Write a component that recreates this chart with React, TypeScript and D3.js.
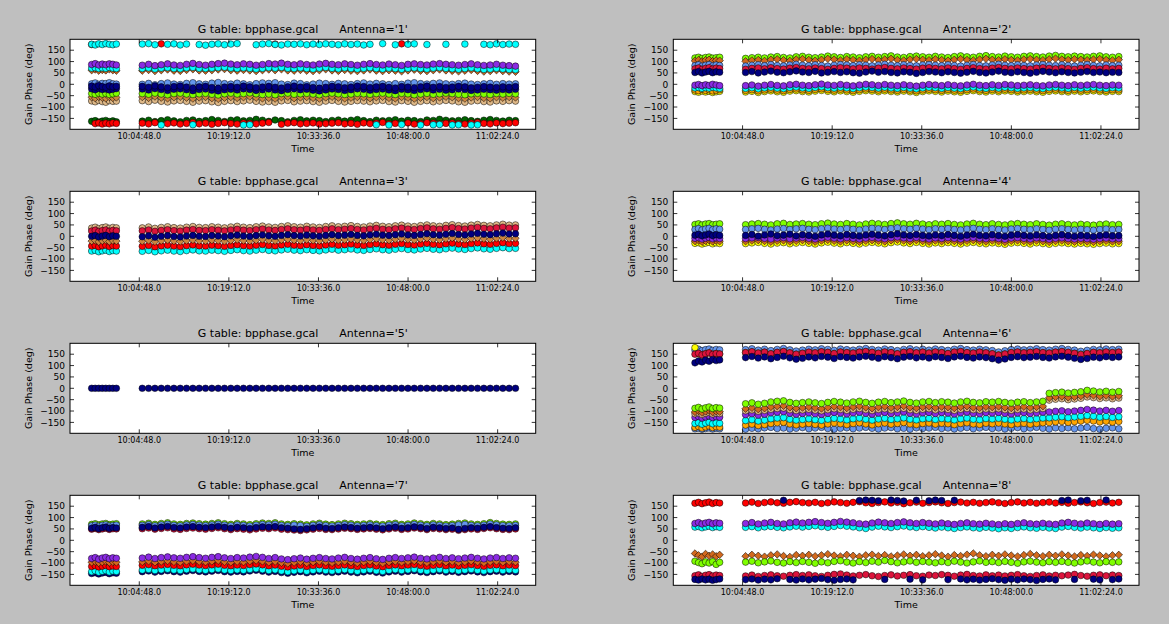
import React from 'react';
import * as d3 from 'd3';

// seconds since midnight
const hms = (h: number, m: number, s: number) => h * 3600 + m * 60 + s;

// two scans: a short one before the gap, then the long one
const scan1Start = hms(9, 57, 9);
const scan1Step = 34;
const scan1Count = 8;
const scan2Start = hms(10, 5, 17);
const scan2Step = 61;
const scan2Count = 60;

const sampleTimes = [
  ...d3.range(scan1Count).map(i => scan1Start + i * scan1Step),
  ...d3.range(scan2Count).map(i => scan2Start + i * scan2Step),
];

const timeTicks = [hms(10, 4, 48), hms(10, 19, 12), hms(10, 33, 36), hms(10, 48, 0), hms(11, 2, 24)];
const phaseTicks = [-150, -100, -50, 0, 50, 100, 150];
const antennaNames = ['1', '2', '3', '4', '5', '6', '7', '8'];
const tableName = 'bpphase.gcal';

// ---- gain phases (deg), first 8 values = scan 1, next 60 = scan 2 ----

// Antenna 1
const ant1Cyan = [176, 173, 178, 175, 179, 176, 174, 177,
  177, 179, 174, -179, 176, 178, 173, 177, -178, 175,
  172, 176, 178, 174, 177, 179, -179, -178, 174, 177,
  179, 175, 173, 177, 176, 178, 174, 177, 175, 178,
  176, 174, 178, 175, 177, 173, 176, -178, 179, -179,
  174, -177, 176, 178, -179, 175, -178, -177, 176, -179,
  -178, 177, -179, -178, 176, 174, 178, 175, 177, 176];
const ant1Red = [175, -173, -170, -175, -171, -174, -170, -172,
  -171, -174, -169, 178, -173, -170, -175, -172, -168, -174,
  -171, -176, -172, -169, -173, -175, -170, -172, -174, -171,
  -168, 177, -176, -171, -169, -174, -172, -170, -175, -173,
  -171, -169, -174, -172, -176, -170, -173, -171, -168, -174,
  -172, 178, -170, -175, -173, -169, -171, -174, -172, -170,
  -173, -175, -171, -168, -172, -174, -170, -173, -171, -169];
const ant1Green = [-163, -160, -166, -162, -159, -164, -161, -165,
  -162, -158, -164, -160, -156, -161, -165, -159, -157, -163,
  -160, -155, -159, -164, -158, -156, -161, -159, -154, -158,
  -163, -157, -160, -165, -159, -156, -161, -158, -160, -164,
  -159, -157, -162, -158, -155, -160, -164, -158, -161, -159,
  -156, -162, -158, -160, -164, -157, -159, -154, -158, -161,
  -159, -156, -160, -163, -158, -155, -159, -162, -158, -160];
const ant1Violet = [87, 91, 85, 89, 86, 90, 88, 85,
  84, 88, 82, 86, 90, 85, 83, 88, 92, 87,
  84, 88, 91, 93, 89, 86, 90, 88, 84, 87,
  91, 89, 93, 88, 86, 90, 87, 85, 89, 92,
  88, 86, 90, 87, 84, 88, 91, 87, 85, 89,
  86, 83, 88, 90, 87, 85, 89, 91, 88, 86,
  84, 87, 90, 86, 83, 85, 88, 84, 82, 80];
const ant1Teal = [71, 73, 69, 72, 70, 74, 71, 69,
  69, 72, 67, 71, 73, 69, 68, 72, 74, 70,
  69, 71, 73, 75, 71, 69, 72, 70, 67, 70,
  73, 71, 74, 70, 69, 72, 69, 67, 71, 74,
  70, 68, 72, 69, 67, 70, 73, 69, 67, 71,
  69, 66, 70, 72, 69, 67, 71, 73, 70, 68,
  66, 69, 72, 68, 65, 67, 70, 67, 65, 64];
const ant1Choc = [62, 65, 60, 63, 61, 66, 62, 60,
  60, 63, 58, 62, 65, 60, 59, 63, 66, 61,
  60, 62, 65, 67, 62, 60, 63, 61, 58, 62,
  65, 62, 66, 61, 60, 63, 60, 58, 62, 66,
  61, 59, 63, 60, 58, 61, 65, 60, 58, 62,
  60, 57, 61, 64, 60, 58, 62, 65, 61, 59,
  57, 60, 63, 59, 56, 58, 62, 58, 56, 55];
const ant1Corn = [2, 6, 0, 4, 3, 7, 2, 1,
  0, 4, -2, 3, 6, 1, -1, 4, 7, 2,
  0, 5, 8, 3, 1, 5, 2, -2, 3, 6,
  4, 7, 1, -1, 5, 3, -2, 1, 5, 3,
  0, 4, 2, -1, 3, 6, 1, 4, 2, -1,
  3, 0, 5, 7, 3, 1, 4, 6, 2, 0,
  3, 5, 1, -1, 2, 4, 0, 3, 1, 2];
const ant1NavyA = [-8, -12, -6, -10, -13, -7, -11, -9,
  -9, -13, -7, -11, -15, -10, -8, -12, -16, -11,
  -9, -14, -17, -12, -10, -13, -8, -11, -15, -12,
  -9, -13, -16, -11, -8, -12, -10, -14, -17, -13,
  -9, -11, -15, -12, -8, -10, -14, -11, -9, -13,
  -16, -10, -12, -15, -11, -8, -13, -10, -14, -12,
  -9, -11, -15, -13, -10, -12, -14, -11, -13, -10];
const ant1NavyB = [-20, -24, -18, -23, -21, -25, -22, -19,
  -21, -25, -19, -23, -27, -22, -20, -24, -28, -23,
  -21, -26, -29, -24, -22, -25, -20, -23, -27, -24,
  -21, -25, -28, -23, -20, -24, -22, -26, -29, -25,
  -21, -23, -27, -24, -20, -22, -26, -23, -21, -25,
  -28, -22, -24, -27, -23, -20, -25, -22, -26, -24,
  -21, -23, -27, -25, -22, -24, -26, -23, -25, -22];
const ant1Lime = [-41, -44, -39, -43, -40, -45, -42, -39,
  -41, -44, -39, -43, -46, -41, -39, -43, -45, -42,
  -40, -44, -47, -42, -39, -43, -41, -38, -42, -45,
  -43, -46, -41, -39, -44, -42, -40, -43, -46, -41,
  -39, -42, -45, -43, -40, -42, -44, -41, -39, -43,
  -45, -40, -42, -46, -43, -40, -44, -42, -39, -41,
  -44, -46, -42, -40, -43, -45, -41, -43, -40, -42];
const ant1Peru = [-57, -61, -55, -59, -62, -56, -60, -58,
  -56, -60, -54, -59, -62, -57, -55, -59, -63, -58,
  -56, -61, -64, -59, -56, -60, -57, -54, -59, -62,
  -60, -63, -57, -55, -61, -58, -56, -60, -63, -58,
  -55, -59, -62, -59, -56, -58, -61, -57, -55, -60,
  -62, -56, -59, -63, -59, -56, -61, -58, -55, -57,
  -61, -63, -58, -56, -60, -62, -57, -59, -56, -58];
const ant1Tan = [-73, -77, -71, -76, -79, -72, -75, -74,
  -72, -76, -70, -75, -78, -73, -71, -75, -79, -74,
  -72, -77, -80, -75, -72, -76, -73, -70, -75, -78,
  -76, -79, -73, -71, -77, -74, -72, -76, -79, -74,
  -71, -75, -78, -75, -72, -74, -77, -73, -71, -76,
  -78, -72, -75, -79, -75, -72, -77, -74, -71, -73,
  -77, -79, -74, -72, -76, -78, -73, -75, -72, -74];

// Antenna 2
const ant2Lime = [116, 119, 114, 118, 120, 115, 117, 119,
  114, 117, 119, 116, 120, 122, 118, 116, 121, 123,
  119, 117, 120, 124, 121, 118, 122, 120, 117, 121,
  123, 119, 122, 125, 120, 118, 122, 124, 121, 119,
  123, 120, 118, 122, 125, 121, 119, 123, 126, 122,
  120, 124, 121, 119, 123, 125, 122, 120, 124, 127,
  123, 121, 124, 122, 120, 123, 125, 121, 119, 122];
const ant2Choc = [103, 107, 101, 106, 108, 102, 105, 104,
  101, 105, 107, 103, 108, 110, 106, 103, 109, 111,
  107, 104, 108, 112, 109, 105, 110, 107, 104, 108,
  111, 106, 109, 112, 107, 105, 109, 111, 108, 106,
  110, 107, 104, 108, 111, 107, 105, 109, 112, 108,
  106, 110, 107, 105, 109, 111, 108, 106, 110, 113,
  109, 107, 110, 108, 106, 109, 111, 107, 105, 108];
const ant2Corn = [82, 86, 80, 84, 87, 81, 85, 83,
  80, 84, 86, 82, 87, 83, 81, 85, 88, 84,
  82, 86, 83, 80, 84, 87, 85, 82, 86, 84,
  81, 85, 88, 84, 82, 86, 83, 81, 85, 87,
  84, 82, 86, 83, 80, 84, 87, 83, 81, 85,
  88, 84, 82, 86, 83, 81, 85, 87, 84, 82,
  86, 83, 80, 84, 87, 83, 81, 85, 82, 84];
const ant2Crimson = [68, 72, 66, 70, 73, 67, 71, 69,
  66, 70, 72, 68, 73, 69, 67, 71, 74, 70,
  68, 72, 69, 66, 70, 73, 71, 68, 72, 70,
  67, 71, 74, 70, 68, 72, 69, 67, 71, 73,
  70, 68, 72, 69, 66, 70, 73, 69, 67, 71,
  74, 70, 68, 72, 69, 67, 71, 73, 70, 68,
  72, 69, 66, 70, 73, 69, 67, 71, 68, 70];
const ant2Navy = [52, 56, 50, 54, 57, 51, 55, 53,
  52, 56, 50, 54, 58, 53, 51, 55, 59, 54,
  52, 57, 50, 53, 56, 52, 55, 51, 49, 54,
  58, 53, 56, 52, 50, 55, 53, 48, 52, 56,
  54, 51, 55, 52, 49, 53, 57, 52, 50, 54,
  58, 53, 51, 55, 52, 49, 53, 57, 54, 51,
  55, 52, 50, 53, 56, 52, 54, 51, 53, 52];
const ant2Violet = [-4, -1, -6, -2, -5, 0, -3, -6,
  -6, -3, -8, -4, -1, -5, -7, -2, 0, -4,
  -6, -2, 1, -3, -5, -1, -4, -7, -3, 0,
  -2, -5, -1, -4, -6, -2, -5, -8, -4, -1,
  -3, -6, -2, -5, -7, -3, 0, -4, -6, -2,
  -5, -1, -3, -6, -4, -2, -5, -7, -3, -1,
  -4, -6, -2, -5, -3, -1, -4, -6, -3, -4];
const ant2Cyan = [-16, -14, -18, -15, -17, -13, -16, -18,
  -18, -15, -20, -16, -13, -17, -19, -14, -12, -16,
  -18, -14, -11, -15, -17, -13, -16, -19, -15, -12,
  -14, -17, -13, -16, -18, -14, -17, -20, -16, -13,
  -15, -18, -14, -17, -19, -15, -12, -16, -18, -14,
  -17, -13, -15, -18, -16, -14, -17, -19, -15, -13,
  -16, -18, -14, -17, -15, -13, -16, -18, -15, -16];
const ant2Orange = [-25, -28, -23, -27, -24, -29, -26, -24,
  -27, -24, -29, -25, -22, -26, -28, -23, -21, -25,
  -27, -23, -20, -24, -26, -22, -25, -28, -24, -21,
  -23, -26, -22, -25, -27, -23, -26, -29, -25, -22,
  -24, -27, -23, -26, -28, -24, -21, -25, -27, -23,
  -26, -22, -24, -27, -25, -23, -26, -28, -24, -22,
  -25, -27, -23, -26, -24, -22, -25, -27, -24, -25];
const ant2Yellow = [-32, -35, -30, -34, -31, -36, -33, -31,
  -34, -31, -36, -32, -29, -33, -35, -30, -28, -32,
  -34, -30, -27, -31, -33, -29, -32, -35, -31, -28,
  -30, -33, -29, -32, -34, -30, -33, -36, -32, -29,
  -31, -34, -30, -33, -35, -31, -28, -32, -34, -30,
  -33, -29, -31, -34, -32, -30, -33, -35, -31, -29,
  -32, -34, -30, -33, -31, -29, -32, -34, -31, -32];

// Antenna 3
const ant3Tan = [36, 40, 34, 38, 41, 35, 39, 37,
  37, 41, 35, 39, 42, 38, 36, 40, 43, 39,
  38, 42, 40, 37, 41, 44, 40, 38, 42, 45,
  41, 39, 43, 46, 42, 40, 44, 41, 39, 43,
  46, 42, 44, 47, 43, 41, 45, 48, 44, 42,
  46, 49, 45, 43, 47, 50, 46, 44, 48, 51,
  47, 45, 49, 52, 48, 46, 50, 53, 49, 50];
const ant3Crimson = [23, 27, 21, 25, 28, 22, 26, 24,
  24, 28, 22, 26, 29, 25, 23, 27, 30, 26,
  25, 29, 27, 24, 28, 31, 27, 25, 29, 32,
  28, 26, 30, 33, 29, 27, 31, 28, 26, 30,
  33, 29, 31, 34, 30, 28, 32, 35, 31, 29,
  33, 36, 32, 30, 34, 37, 33, 31, 35, 38,
  34, 32, 36, 39, 35, 33, 37, 40, 36, 37];
const ant3Navy = [0, 3, -3, 1, 4, -2, 2, 0,
  -2, 2, -4, 0, 3, -1, -3, 1, 4, 0,
  -1, 3, 1, -2, 2, 5, 1, -1, 3, 6,
  2, 0, 4, 7, 3, 1, 5, 2, 0, 4,
  7, 3, 5, 8, 4, 2, 6, 9, 5, 3,
  7, 10, 6, 4, 8, 11, 7, 5, 9, 12,
  8, 6, 10, 13, 9, 7, 11, 14, 10, 11];
const ant3Choc = [-21, -18, -24, -20, -17, -23, -19, -21,
  -22, -18, -24, -20, -17, -21, -23, -19, -16, -20,
  -21, -17, -19, -22, -18, -15, -19, -21, -17, -14,
  -18, -20, -16, -13, -17, -19, -15, -18, -20, -16,
  -13, -17, -15, -12, -16, -18, -14, -11, -15, -17,
  -13, -10, -14, -16, -12, -9, -13, -15, -11, -8,
  -12, -14, -10, -7, -11, -13, -9, -6, -10, -9];
const ant3Red = [-43, -40, -46, -42, -39, -45, -41, -43,
  -44, -40, -46, -42, -39, -43, -45, -41, -38, -42,
  -43, -39, -41, -44, -40, -37, -41, -43, -39, -36,
  -40, -42, -38, -35, -39, -41, -37, -40, -42, -38,
  -35, -39, -37, -34, -38, -40, -36, -33, -37, -39,
  -35, -32, -36, -38, -34, -31, -35, -37, -33, -30,
  -34, -36, -32, -29, -33, -35, -31, -28, -32, -31];
const ant3Cyan = [-65, -62, -68, -64, -61, -67, -63, -65,
  -66, -62, -68, -64, -61, -65, -67, -63, -60, -64,
  -65, -61, -63, -66, -62, -59, -63, -65, -61, -58,
  -62, -64, -60, -57, -61, -63, -59, -62, -64, -60,
  -57, -61, -59, -56, -60, -62, -58, -55, -59, -61,
  -57, -54, -58, -60, -56, -53, -57, -59, -55, -52,
  -56, -58, -54, -51, -55, -57, -53, -50, -54, -53];

// Antenna 4
const ant4Lime = [52, 55, 50, 54, 56, 51, 53, 55,
  51, 54, 56, 53, 50, 55, 57, 52, 54, 56,
  53, 51, 55, 58, 54, 52, 56, 53, 50, 54,
  57, 55, 52, 56, 59, 55, 53, 57, 54, 51,
  55, 53, 56, 52, 50, 54, 57, 53, 51, 55,
  52, 50, 54, 56, 53, 51, 55, 52, 49, 53,
  55, 52, 50, 53, 51, 49, 52, 54, 51, 52];
const ant4Corn = [30, 34, 28, 32, 35, 29, 33, 31,
  30, 33, 35, 31, 28, 32, 34, 30, 33, 35,
  31, 29, 33, 36, 32, 30, 34, 31, 28, 32,
  35, 33, 30, 34, 37, 33, 31, 35, 32, 29,
  33, 31, 34, 30, 28, 32, 35, 31, 29, 33,
  30, 28, 32, 34, 31, 29, 33, 30, 27, 31,
  33, 30, 28, 31, 29, 27, 30, 32, 29, 30];
const ant4Navy = [5, 9, 2, 6, 10, 3, 7, 4,
  4, 8, 1, 6, 10, 3, 5, 9, 2, 7,
  4, 0, 6, 10, 5, 2, 8, 4, 1, 6,
  9, 5, 2, 7, 11, 6, 3, 8, 4, 1,
  6, 3, 8, 4, 0, 5, 9, 4, 2, 7,
  3, 0, 5, 8, 4, 1, 6, 3, -1, 4,
  7, 3, 0, 4, 2, -1, 3, 6, 2, 3];
const ant4Violet = [-9, -6, -12, -8, -5, -11, -7, -10,
  -10, -7, -5, -9, -12, -8, -6, -11, -8, -5,
  -9, -12, -7, -4, -8, -11, -6, -9, -12, -8,
  -5, -8, -11, -6, -3, -7, -10, -5, -9, -12,
  -7, -10, -6, -9, -12, -8, -5, -9, -11, -7,
  -10, -13, -8, -6, -9, -12, -7, -10, -13, -9,
  -7, -10, -12, -9, -11, -13, -10, -8, -11, -10];
const ant4Choc = [-21, -18, -24, -20, -17, -23, -19, -22,
  -22, -19, -17, -21, -24, -20, -18, -23, -20, -17,
  -21, -24, -19, -16, -20, -23, -18, -21, -24, -20,
  -17, -20, -23, -18, -15, -19, -22, -17, -21, -24,
  -19, -22, -18, -21, -24, -20, -17, -21, -23, -19,
  -22, -25, -20, -18, -21, -24, -19, -22, -25, -21,
  -19, -22, -24, -21, -23, -25, -22, -20, -23, -22];
const ant4Yellow = [-31, -28, -34, -30, -27, -33, -29, -32,
  -32, -29, -27, -31, -34, -30, -28, -33, -30, -27,
  -31, -34, -29, -26, -30, -33, -28, -31, -34, -30,
  -27, -30, -33, -28, -25, -29, -32, -27, -31, -34,
  -29, -32, -28, -31, -34, -30, -27, -31, -33, -29,
  -32, -35, -30, -28, -31, -34, -29, -32, -35, -31,
  -29, -32, -34, -31, -33, -35, -32, -30, -33, -32];

// Antenna 5 (reference antenna, phase held at zero)
const ant5Navy = [0, 0, 0, 0, 0, 0, 0, 0,
  0, 0, 0, 0, 0, 0, 0, 0, 0, 0,
  0, 0, 0, 0, 0, 0, 0, 0, 0, 0,
  0, 0, 0, 0, 0, 0, 0, 0, 0, 0,
  0, 0, 0, 0, 0, 0, 0, 0, 0, 0,
  0, 0, 0, 0, 0, 0, 0, 0, 0, 0,
  0, 0, 0, 0, 0, 0, 0, 0, 0, 0];

// Antenna 6
const ant6Corn = [168, 172, 166, 170, 173, 167, 171, 169,
  170, 174, 168, 172, 166, 171, 175, 169, 164, 168,
  172, 169, 174, 171, 167, 173, 170, 168, 172, 175,
  171, 168, 173, 170, 166, 171, 174, 169, 172, 168,
  173, 170, 167, 172, 175, 170, 168, 172, 169, 166,
  160, 165, 170, 173, 169, 171, 174, 170, 168, 172,
  175, 171, 168, 163, 167, 171, 169, 173, 170, 172];
const ant6Yellow = [179, 151, 147, 152, 156, 149, 153, 151,
  157, 160, 155, 159, 152, 158, 161, 156, 150, 154,
  158, 156, 160, 158, 153, 159, 157, 155, 159, 161,
  158, 154, 159, 157, 152, 158, 160, 156, 159, 155,
  159, 157, 153, 159, 161, 157, 155, 159, 156, 152,
  147, 151, 157, 159, 156, 158, 160, 157, 155, 159,
  161, 158, 154, 150, 153, 158, 156, 159, 157, 159];
const ant6Crimson = [150, 154, 147, 152, 156, 149, 153, 151,
  157, 161, 155, 159, 152, 158, 162, 156, 150, 154,
  159, 156, 161, 158, 153, 160, 157, 155, 159, 162,
  158, 154, 160, 157, 152, 158, 161, 156, 159, 155,
  160, 157, 153, 159, 162, 157, 155, 159, 156, 152,
  146, 151, 157, 160, 156, 158, 161, 157, 155, 159,
  162, 158, 154, 149, 153, 158, 156, 160, 157, 159];
const ant6Navy = [112, 120, 116, 124, 119, 127, 122, 125,
  135, 140, 133, 138, 130, 136, 141, 134, 128, 132,
  138, 134, 140, 137, 131, 139, 136, 133, 138, 141,
  137, 132, 139, 135, 130, 137, 140, 134, 138, 133,
  139, 136, 131, 138, 141, 136, 133, 138, 135, 130,
  124, 129, 136, 139, 135, 137, 140, 136, 133, 138,
  141, 137, 132, 127, 131, 137, 134, 139, 136, 138];
const ant6Lime = [-88, -84, -91, -86, -82, -89, -85, -87,
  -68, -64, -70, -66, -60, -57, -55, -62, -66, -63,
  -60, -64, -67, -62, -58, -61, -65, -60, -57, -62,
  -66, -61, -58, -63, -60, -56, -62, -65, -60, -58,
  -63, -59, -61, -65, -60, -57, -62, -64, -59, -61,
  -58, -62, -65, -61, -59, -63, -60, -57, -22, -19,
  -17, -21, -18, -15, -9, -12, -16, -13, -17, -14];
const ant6Choc = [-104, -100, -107, -102, -98, -105, -101, -103,
  -90, -86, -92, -88, -82, -79, -77, -84, -88, -85,
  -82, -86, -89, -84, -80, -83, -87, -82, -79, -84,
  -88, -83, -80, -85, -82, -78, -84, -87, -82, -80,
  -85, -81, -83, -87, -82, -79, -84, -86, -81, -83,
  -80, -84, -87, -83, -81, -85, -82, -79, -42, -38,
  -36, -40, -37, -34, -28, -31, -35, -32, -36, -33];
const ant6Tan = [-112, -108, -115, -110, -106, -113, -109, -111,
  -99, -95, -101, -97, -92, -89, -87, -94, -98, -95,
  -92, -96, -99, -94, -90, -93, -97, -92, -89, -94,
  -98, -93, -90, -95, -92, -88, -94, -97, -92, -90,
  -95, -91, -93, -97, -92, -89, -94, -96, -91, -93,
  -90, -94, -97, -93, -91, -95, -92, -89, -52, -48,
  -46, -50, -47, -44, -38, -41, -45, -42, -46, -43];
const ant6Violet = [-128, -124, -131, -126, -122, -129, -125, -127,
  -116, -112, -118, -114, -108, -105, -103, -110, -114, -111,
  -108, -112, -115, -110, -106, -109, -113, -108, -105, -110,
  -114, -109, -106, -111, -108, -104, -110, -113, -108, -106,
  -111, -107, -109, -113, -108, -105, -110, -112, -107, -109,
  -106, -110, -113, -109, -107, -111, -108, -105, -104, -101,
  -99, -103, -100, -97, -93, -96, -100, -97, -101, -98];
const ant6Cyan = [-155, -151, -158, -153, -149, -156, -152, -154,
  -142, -138, -144, -140, -134, -131, -129, -136, -140, -137,
  -134, -138, -141, -136, -132, -135, -139, -134, -131, -136,
  -140, -135, -132, -137, -134, -130, -136, -139, -134, -132,
  -137, -133, -135, -139, -134, -131, -136, -138, -133, -135,
  -132, -136, -139, -135, -133, -137, -134, -131, -130, -127,
  -125, -129, -126, -123, -120, -123, -127, -124, -128, -125];
const ant6Orange = [-172, -168, -175, -170, -166, -173, -169, -171,
  -162, -158, -164, -160, -155, -152, -150, -157, -161, -158,
  -155, -159, -162, -157, -153, -156, -160, -155, -152, -157,
  -161, -156, -153, -158, -155, -151, -157, -160, -155, -153,
  -158, -154, -156, -160, -155, -152, -157, -159, -154, -156,
  -153, -157, -160, -156, -154, -158, -155, -152, -151, -148,
  -146, -150, -147, -144, -141, -144, -148, -145, -149, -146];
const ant6CornLow = [-178, -176, -180, -177, -175, -179, -176, -178,
  -180, -176, -178, -174, -172, -177, -175, -179, -176, -173,
  -178, -175, -172, -177, -180, -176, -174, -178, -175, -172,
  -176, -179, -175, -173, -178, -176, -180, -174, -177, -175,
  -172, -177, -175, -179, -176, -173, -178, -175, -172, -177,
  -175, -179, -176, -173, -178, -175, -172, -176, -179, -174,
  -177, -174, -178, -175, -172, -177, -180, -176, -174, -178];

// Antenna 7
const ant7Lime = [70, 73, 68, 72, 74, 69, 71, 73,
  72, 75, 70, 74, 77, 72, 70, 74, 76, 73,
  71, 74, 77, 73, 70, 74, 72, 69, 73, 76,
  74, 77, 72, 70, 73, 71, 68, 72, 75, 71,
  69, 72, 75, 73, 70, 72, 74, 71, 69, 73,
  75, 70, 72, 76, 73, 70, 74, 72, 69, 71,
  74, 76, 72, 70, 73, 78, 74, 71, 70, 72];
const ant7Corn = [64, 67, 62, 66, 68, 63, 65, 67,
  66, 69, 64, 68, 71, 66, 64, 68, 70, 67,
  65, 68, 71, 67, 64, 68, 66, 63, 67, 70,
  68, 71, 66, 64, 67, 65, 62, 66, 69, 65,
  63, 66, 69, 67, 64, 66, 68, 65, 63, 67,
  69, 64, 66, 70, 67, 64, 68, 66, 63, 65,
  68, 70, 66, 64, 67, 72, 68, 65, 64, 66];
const ant7Crimson = [49, 52, 47, 50, 53, 48, 51, 50,
  51, 54, 49, 52, 55, 50, 48, 52, 54, 51,
  49, 52, 55, 51, 47, 51, 49, 46, 50, 53,
  51, 54, 49, 47, 45, 43, 46, 49, 52, 48,
  47, 50, 53, 51, 48, 50, 52, 49, 46, 50,
  53, 48, 50, 54, 51, 47, 52, 50, 47, 49,
  44, 47, 50, 48, 52, 55, 51, 48, 47, 50];
const ant7Navy = [53, 57, 51, 55, 58, 52, 56, 54,
  57, 60, 54, 58, 61, 56, 54, 58, 60, 57,
  55, 58, 61, 57, 53, 57, 55, 52, 56, 59,
  57, 60, 55, 53, 50, 48, 51, 54, 58, 53,
  52, 55, 58, 56, 53, 55, 57, 54, 51, 55,
  58, 53, 55, 59, 56, 52, 57, 55, 52, 54,
  48, 52, 55, 53, 57, 60, 56, 53, 52, 55];
const ant7Violet = [-80, -76, -83, -78, -75, -81, -77, -79,
  -78, -74, -80, -76, -73, -77, -79, -75, -72, -76,
  -79, -75, -72, -77, -80, -76, -78, -74, -71, -75,
  -80, -76, -82, -85, -81, -78, -83, -79, -76, -80,
  -82, -78, -75, -80, -83, -79, -76, -81, -84, -79,
  -76, -80, -77, -74, -79, -82, -78, -75, -80, -77,
  -81, -78, -75, -79, -82, -78, -76, -80, -77, -79];
const ant7Choc = [-97, -94, -99, -96, -93, -98, -95, -97,
  -95, -92, -97, -94, -91, -95, -97, -93, -90, -94,
  -96, -93, -90, -95, -97, -94, -96, -92, -89, -93,
  -97, -94, -99, -102, -98, -95, -100, -96, -93, -97,
  -99, -96, -93, -97, -100, -96, -93, -98, -101, -96,
  -93, -97, -94, -91, -96, -99, -95, -92, -97, -94,
  -98, -95, -92, -96, -99, -95, -93, -97, -94, -96];
const ant7Red = [-115, -112, -117, -114, -111, -116, -113, -115,
  -110, -107, -112, -109, -106, -110, -112, -108, -105, -109,
  -111, -108, -105, -110, -112, -109, -111, -107, -104, -108,
  -112, -109, -114, -117, -113, -110, -115, -111, -108, -112,
  -114, -111, -108, -112, -115, -111, -108, -113, -116, -111,
  -108, -112, -109, -106, -111, -114, -110, -107, -112, -109,
  -113, -110, -107, -111, -114, -110, -108, -112, -109, -111];
const ant7Cyan = [-138, -134, -140, -136, -133, -139, -135, -137,
  -131, -128, -133, -130, -127, -131, -133, -129, -126, -130,
  -132, -129, -126, -131, -133, -130, -132, -128, -125, -129,
  -133, -130, -135, -138, -134, -131, -136, -132, -129, -133,
  -135, -132, -129, -133, -136, -132, -129, -134, -137, -132,
  -129, -133, -130, -127, -132, -135, -131, -128, -133, -130,
  -134, -131, -128, -132, -135, -131, -129, -133, -130, -132];
const ant7NavyLow = [-146, -143, -148, -144, -141, -147, -143, -145,
  -138, -135, -140, -137, -134, -138, -140, -136, -133, -137,
  -139, -136, -133, -138, -140, -137, -139, -135, -132, -136,
  -140, -137, -142, -145, -141, -138, -143, -139, -136, -140,
  -142, -139, -136, -140, -143, -139, -136, -141, -144, -139,
  -136, -140, -137, -134, -139, -142, -138, -135, -140, -137,
  -141, -138, -135, -139, -142, -138, -136, -140, -137, -139];

// Antenna 8
const ant8Red = [163, 167, 161, 165, 168, 162, 166, 164,
  164, 168, 162, 166, 169, 165, 163, 167, 170, 166,
  164, 167, 162, 165, 169, 166, 163, 167, 170, 165,
  162, 166, 169, 164, 167, 161, 165, 168, 163, 166,
  169, 165, 162, 166, 168, 164, 167, 163, 166, 169,
  165, 162, 166, 169, 164, 167, 163, 166, 168, 164,
  167, 163, 166, 169, 165, 162, 166, 168, 164, 167];
const ant8Crimson = [-156, -152, -159, -154, -151, -157, -153, -155,
  -157, -153, -159, -155, -152, -156, -158, -154, -151, -155,
  -152, -156, -159, -154, -150, -148, -153, -157, -154, -151,
  -156, -159, -155, -152, -157, -154, -151, -156, -158, -153,
  -155, -151, -154, -158, -153, -150, -155, -157, -152, -156,
  -153, -157, -154, -151, -156, -159, -155, -152, -157, -154,
  -156, -153, -150, -155, -158, -154, -152, -156, -153, -155];
const ant8Navy = [-172, -175, -170, -174, -171, -176, -173, -170,
  -173, -170, -175, -171, -174, -169, 176, -172, -175, -170,
  -174, -171, -168, -173, -176, -172, -170, -174, 175, 177,
  176, 174, -172, 177, 175, 173, -171, 176, -174, 174,
  177, 175, -173, 176, -170, -174, -171, -175, -172, -169,
  -173, -176, -171, -174, -170, -173, -177, -172, -170, -174,
  175, 177, -172, 174, 176, -171, -174, 177, -173, -170];
const ant8Violet = [74, 78, 72, 76, 79, 73, 77, 75,
  74, 78, 72, 76, 79, 74, 72, 77, 80, 76,
  79, 82, 78, 75, 79, 83, 80, 77, 73, 71,
  76, 80, 77, 74, 78, 81, 77, 74, 78, 75,
  72, 76, 73, 70, 74, 77, 73, 71, 75, 72,
  69, 73, 70, 74, 77, 73, 71, 75, 72, 70,
  76, 79, 75, 72, 76, 73, 70, 74, 71, 73];
const ant8Cyan = [58, 61, 55, 59, 62, 56, 60, 57,
  57, 60, 55, 59, 61, 57, 55, 59, 62, 58,
  61, 64, 60, 57, 61, 65, 62, 59, 55, 52,
  58, 62, 59, 56, 60, 63, 59, 56, 60, 57,
  54, 58, 55, 52, 56, 59, 55, 53, 57, 54,
  51, 55, 52, 56, 59, 55, 53, 57, 54, 52,
  58, 61, 57, 54, 58, 55, 52, 56, 53, 55];
const ant8Choc = [-58, -66, -72, -60, -68, -62, -70, -64,
  -70, -64, -68, -72, -66, -62, -69, -73, -65, -68,
  -64, -70, -66, -61, -67, -71, -64, -68, -72, -66,
  -63, -69, -65, -71, -67, -62, -68, -64, -70, -66,
  -61, -67, -72, -65, -69, -63, -58, -66, -70, -64,
  -68, -62, -67, -71, -65, -60, -66, -70, -64, -68,
  -62, -67, -71, -65, -69, -63, -67, -71, -66, -64];
const ant8Lime = [-92, -98, -103, -95, -100, -94, -106, -97,
  -96, -92, -99, -95, -91, -97, -100, -94, -98, -93,
  -97, -101, -95, -99, -93, -90, -96, -100, -94, -98,
  -92, -96, -89, -94, -99, -95, -91, -97, -93, -96,
  -99, -94, -98, -92, -96, -100, -95, -91, -97, -94,
  -98, -93, -97, -101, -95, -92, -96, -99, -94, -97,
  -93, -97, -100, -95, -91, -96, -99, -94, -97, -95];

// ---- styling ----
const NAVY = '#000080';
const CORN = '#6495ED';
const RED = '#FF0000';
const CRIMSON = '#DC143C';
const CYAN = '#00FFFF';
const VIOLET = '#8A2BE2';
const CHOC = '#D2691E';
const PERU = '#CD853F';
const TAN = '#DEB887';
const LIME = '#7FFF00';
const YELLOW = '#FFFF00';
const DKGREEN = '#006400';
const ORANGE = '#FFA500';

type Series = { values: number[]; color: string; diamond?: boolean };

// draw order per antenna (later ones on top)
const panelSeries: Series[][] = [
  [
    { values: ant1Tan, color: TAN }, { values: ant1Peru, color: PERU, diamond: true },
    { values: ant1Lime, color: LIME }, { values: ant1Corn, color: CORN },
    { values: ant1NavyB, color: NAVY }, { values: ant1NavyA, color: NAVY },
    { values: ant1Choc, color: CHOC, diamond: true }, { values: ant1Teal, color: CYAN },
    { values: ant1Violet, color: VIOLET }, { values: ant1Green, color: DKGREEN },
    { values: ant1Red, color: RED }, { values: ant1Cyan, color: CYAN },
  ],
  [
    { values: ant2Lime, color: LIME }, { values: ant2Choc, color: CHOC, diamond: true },
    { values: ant2Corn, color: CORN }, { values: ant2Crimson, color: CRIMSON },
    { values: ant2Navy, color: NAVY }, { values: ant2Yellow, color: YELLOW },
    { values: ant2Orange, color: ORANGE }, { values: ant2Cyan, color: CYAN },
    { values: ant2Violet, color: VIOLET },
  ],
  [
    { values: ant3Tan, color: TAN }, { values: ant3Crimson, color: CRIMSON },
    { values: ant3Cyan, color: CYAN }, { values: ant3Red, color: RED },
    { values: ant3Choc, color: PERU, diamond: true }, { values: ant3Navy, color: NAVY },
  ],
  [
    { values: ant4Yellow, color: YELLOW }, { values: ant4Choc, color: CHOC, diamond: true },
    { values: ant4Violet, color: VIOLET }, { values: ant4Lime, color: LIME },
    { values: ant4Corn, color: CORN }, { values: ant4Navy, color: NAVY },
  ],
  [
    { values: ant5Navy, color: NAVY },
  ],
  [
    { values: ant6CornLow, color: CORN }, { values: ant6Orange, color: ORANGE },
    { values: ant6Cyan, color: CYAN }, { values: ant6Violet, color: VIOLET },
    { values: ant6Tan, color: TAN }, { values: ant6Choc, color: CHOC, diamond: true },
    { values: ant6Lime, color: LIME }, { values: ant6Corn, color: CORN },
    { values: ant6Yellow, color: YELLOW }, { values: ant6Crimson, color: CRIMSON },
    { values: ant6Navy, color: NAVY },
  ],
  [
    { values: ant7Lime, color: LIME }, { values: ant7Corn, color: CORN },
    { values: ant7Crimson, color: CRIMSON }, { values: ant7Navy, color: NAVY },
    { values: ant7NavyLow, color: NAVY }, { values: ant7Cyan, color: CYAN },
    { values: ant7Red, color: RED }, { values: ant7Choc, color: CHOC, diamond: true },
    { values: ant7Violet, color: VIOLET },
  ],
  [
    { values: ant8Red, color: RED }, { values: ant8Crimson, color: CRIMSON },
    { values: ant8Navy, color: NAVY }, { values: ant8Cyan, color: CYAN },
    { values: ant8Violet, color: VIOLET }, { values: ant8Choc, color: CHOC, diamond: true },
    { values: ant8Lime, color: LIME },
  ],
];

// ---- layout ----
const W = 1169;
const H = 624;
const colLeft = [70, 673.3];
const rowTop = [39.3, 191.3, 343.3, 495.3];
const plotW = 465.7;
const plotH = 90;
const timeDomain = [hms(9, 53, 40), hms(11, 8, 31)];
const phaseDomain = [-198, 198];
const FONT = 'DejaVu Sans, sans-serif';

const pad = (n: number) => String(n).padStart(2, '0');
const fmtTime = (t: number) =>
  `${pad(Math.floor(t / 3600))}:${pad(Math.floor((t % 3600) / 60))}:${pad(t % 60)}.0`;

const diamondPath = d3.symbol(d3.symbolSquare, 28)() as string;

function Panel({ index }: { index: number }) {
  const left = colLeft[index % 2];
  const top = rowTop[Math.floor(index / 2)];
  const x = d3.scaleLinear().domain(timeDomain).range([left, left + plotW]);
  const y = d3.scaleLinear().domain(phaseDomain).range([top + plotH, top]);
  const tickLen = 4;

  return (
    <g>
      <rect x={left} y={top} width={plotW} height={plotH} fill="#fff" />
      {panelSeries[index].map((s, si) => (
        <g key={si} fill={s.color} stroke="#000" strokeWidth={0.5}>
          {s.values.map((v, i) => {
            const t = sampleTimes[i];
            if (t === undefined || !Number.isFinite(v)) return null;
            const cx = x(t);
            const cy = y(v);
            return s.diamond ? (
              <path key={i} d={diamondPath} transform={`translate(${cx},${cy}) rotate(45)`} />
            ) : (
              <circle key={i} cx={cx} cy={cy} r={3.3} />
            );
          })}
        </g>
      ))}
      <g stroke="#000" strokeWidth={0.8}>
        {timeTicks.map(t => (
          <g key={t}>
            <line x1={x(t)} x2={x(t)} y1={top + plotH} y2={top + plotH - tickLen} />
            <line x1={x(t)} x2={x(t)} y1={top} y2={top + tickLen} />
          </g>
        ))}
        {phaseTicks.map(p => (
          <g key={p}>
            <line x1={left} x2={left + tickLen} y1={y(p)} y2={y(p)} />
            <line x1={left + plotW} x2={left + plotW - tickLen} y1={y(p)} y2={y(p)} />
          </g>
        ))}
      </g>
      <rect x={left} y={top} width={plotW} height={plotH} fill="none" stroke="#000" strokeWidth={1} />
      <g fontFamily={FONT} fill="#000">
        {timeTicks.map(t => (
          <text key={t} x={x(t)} y={top + plotH + 9.5} fontSize={8} textAnchor="middle">
            {fmtTime(t)}
          </text>
        ))}
        {phaseTicks.map(p => (
          <text key={p} x={left - 5} y={y(p) + 3.2} fontSize={9} textAnchor="end">
            {p < 0 ? `\u2212${-p}` : p}
          </text>
        ))}
        <text x={left + plotW / 2} y={top + plotH + 23} fontSize={9.5} textAnchor="middle">
          Time
        </text>
        <text
          transform={`translate(${left - 38},${top + plotH / 2}) rotate(-90)`}
          fontSize={9.5}
          textAnchor="middle"
        >
          Gain Phase (deg)
        </text>
        <text
          x={left + plotW / 2}
          y={top - 6}
          fontSize={11}
          textAnchor="middle"
          style={{ whiteSpace: 'pre' }}
        >
          {`G table: ${tableName}      Antenna='${antennaNames[index]}'`}
        </text>
      </g>
    </g>
  );
}

export default function App() {
  return (
    <div style={{ position: 'absolute', left: 0, top: 0 }}>
      <svg width={W} height={H} viewBox={`0 0 ${W} ${H}`} style={{ display: 'block' }}>
        <rect width={W} height={H} fill="#bfbfbf" />
        {antennaNames.map((_, i) => (
          <Panel key={i} index={i} />
        ))}
      </svg>
    </div>
  );
}
